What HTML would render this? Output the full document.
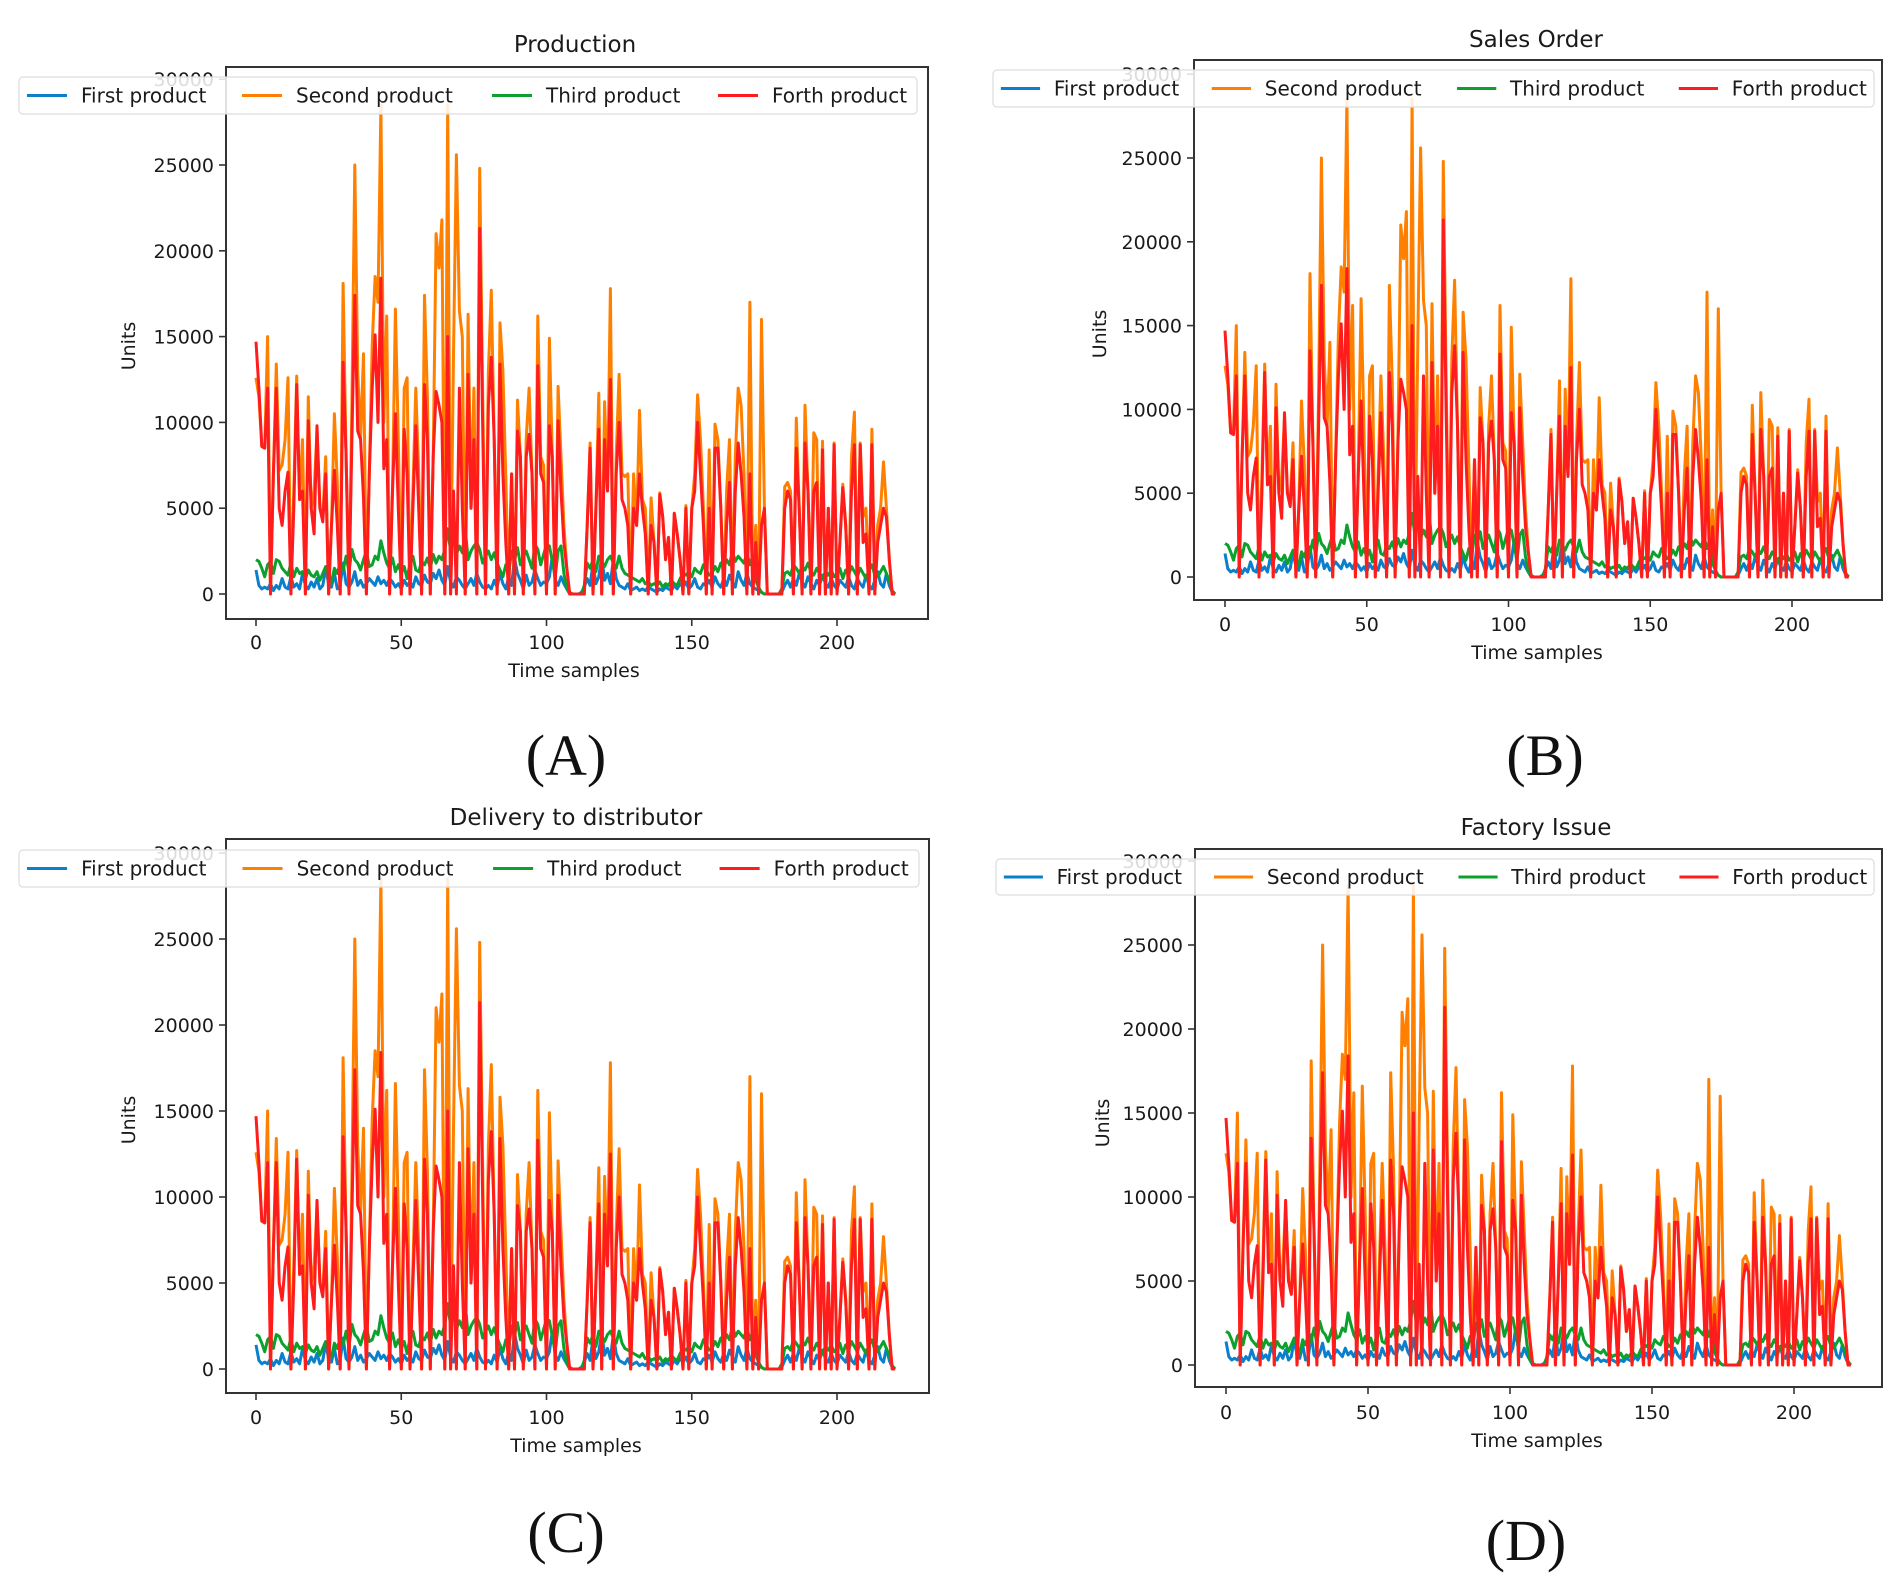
<!DOCTYPE html>
<html><head><meta charset="utf-8"><style>
html,body{margin:0;padding:0;background:#fff;}
svg{display:block;}
text{font-family:"DejaVu Sans","Liberation Sans",sans-serif;fill:#1a1a1a;}
</style></head>
<body>
<svg id="fig" width="1904" height="1584" viewBox="0 0 1904 1584" xmlns="http://www.w3.org/2000/svg"></svg>
<script>
// ---- data ----
const seriesNames = ["First product","Second product","Third product","Forth product"];
const xTicks = [0,50,100,150,200];
const yTicks = [0,5000,10000,15000,20000,25000,30000];
const firstProduct = [1400,500,300,400,300,600,200,500,300,900,400,300,1000,400,600,300,1200,500,300,700,
400,900,300,500,1500,600,400,1200,300,500,1800,600,400,700,1300,500,800,400,600,900,
700,500,1000,600,800,500,900,700,400,600,300,800,500,700,400,1000,600,500,1100,700,
600,1200,900,1400,800,500,1600,700,400,1000,800,500,300,600,900,500,1200,700,400,300,
500,300,800,400,1200,600,300,1000,500,2100,1200,800,300,1100,500,700,1400,900,500,700,
600,1000,2200,800,500,1000,600,300,0,0,0,0,100,400,900,500,1800,600,1000,2200,
800,1200,600,2000,900,500,400,300,600,200,300,400,200,300,200,400,300,200,100,300,
200,400,300,200,500,300,600,400,700,300,500,900,400,300,600,500,800,400,1000,600,
400,900,500,1100,700,400,1300,800,500,1200,600,400,300,200,100,0,0,0,0,0,
0,100,500,800,400,900,500,1200,700,400,1000,600,300,800,500,1100,600,400,900,500,
300,800,600,400,1000,500,300,900,600,400,1100,500,300,800,1300,600,400,1200,500,100,0];
const secondProduct = [12600,11500,8600,8500,15000,0,7000,13400,7200,7500,9000,12600,0,6000,12700,5500,9000,0,11500,5000,
6000,9500,5000,4500,8000,0,4000,10500,6500,0,18100,8000,0,11000,25000,13000,9000,14000,0,7000,
14500,18500,17000,28500,10000,16200,0,6000,16600,9000,0,12000,12600,0,6000,12000,7000,0,17400,11500,
0,8000,21000,19000,21800,0,28500,0,14000,25600,16500,15000,0,16300,5000,12000,0,24800,12000,0,
13000,17700,9000,0,15800,13000,6800,0,7000,0,11300,8000,0,9000,12000,7000,0,16200,8000,7500,
0,14900,8000,0,12100,8000,4000,1500,0,0,0,0,0,0,4000,8800,0,5000,11700,0,
11200,6000,17800,0,8000,12800,7000,6850,7000,0,7000,4000,10700,5500,5000,0,5600,3000,0,5900,
4500,2000,3300,0,4700,3500,2000,0,5150,0,5000,7000,11600,9000,5000,0,8400,0,9900,9000,
5000,0,6000,9000,0,8000,12000,11000,7000,0,17000,0,4000,0,16000,5000,0,0,0,0,
0,0,6250,6500,6000,0,10250,5000,0,11000,6000,0,9400,9000,0,8900,0,5000,0,8800,
0,3000,6400,4000,0,8000,10600,0,8800,4500,5000,0,9600,0,4000,5000,7700,5000,2000,0,0];
const thirdProduct = [2000,1900,1500,1000,1700,1900,1200,2000,1900,1500,1300,1100,1800,1000,1500,1200,1300,900,1400,1100,
1000,1300,800,1200,1600,1100,700,1500,1200,1800,1400,2200,1300,2600,2000,1800,1400,2000,2500,1600,
1700,2200,2000,3100,2400,1800,1500,2100,1300,1700,1200,1600,900,1800,2200,1400,1300,1900,1700,2100,
1500,2300,1800,2200,2000,2600,3800,2500,3600,2300,2800,2400,3800,2000,2500,2800,3000,2600,1800,2200,
2500,2000,2400,1800,1400,1000,1700,1200,2500,2000,2700,1700,2200,2500,2000,1500,2900,2600,1700,2300,
2900,2800,1900,1000,2500,2800,1200,300,100,0,0,0,0,500,1800,1500,2000,1300,2200,1900,
1600,2000,2200,1800,1500,2200,1500,1200,1100,1000,900,800,700,900,600,700,500,600,500,700,
400,600,500,800,600,500,900,1200,1100,1300,1000,1500,1300,1200,1700,1400,1100,1200,1600,1300,
1800,1500,2000,1700,2500,1900,2200,2000,1800,2400,1700,2200,800,400,100,0,0,0,0,0,
0,300,1200,1300,1100,1700,1500,1200,1600,1400,1800,1300,1100,1500,1200,900,1300,1100,1400,1000,
1200,1500,900,1400,1100,1600,1300,1000,1500,1200,900,1400,1700,1100,1000,1300,1600,1200,800,200,0];
const forthProduct = [14700,12000,8600,8500,12000,0,7000,12000,5000,4000,6000,7100,0,5000,12200,5500,6000,0,10100,5000,
3500,9800,5000,4200,7000,0,4000,7200,4000,0,13500,8000,0,9000,17400,9500,9000,5600,0,7000,
12000,15100,10000,18400,7300,9000,0,6000,10500,5000,0,9600,7000,0,5000,9800,5000,0,12200,9000,
0,8000,11800,11000,10000,0,15000,0,6000,0,12000,5000,0,12800,5000,9000,0,21300,10000,0,
11000,13800,9000,0,13400,7000,3000,0,7000,0,9500,8000,0,8000,9300,7000,0,13300,7000,6500,
0,9800,8000,0,10100,6000,3000,1500,0,0,0,0,0,0,4000,8500,0,5000,9600,0,
9000,6000,12500,0,7000,10000,5500,5000,4000,0,5000,4000,7000,5000,3500,0,4000,3000,0,5800,
4500,2000,3300,0,4700,3500,2000,0,5000,0,5000,6000,10000,7000,4000,0,5000,0,8500,8500,
5000,0,4000,6500,0,6000,8800,7000,4500,0,7000,0,3000,0,4000,5000,0,0,0,0,
0,0,5000,6000,5500,0,8500,5000,0,8800,6000,0,6000,6500,0,8400,0,5000,0,8700,
0,3000,6200,4000,0,6000,8700,0,8700,3000,3500,0,8700,0,3000,4000,5000,4500,2000,0,0];
const panelTitles = ["Production","Sales Order","Delivery to distributor","Factory Issue"];
const panelLetters = ["(A)","(B)","(C)","(D)"];

// ---- layout ----
const panels = [
 {left:226,right:928,top:67,bottom:619,x0:256,x200:837,y0:594,y25:165,title:[575,44],ylab:[129,346],xlab:[574,670],xtickY:642,leg:[19,77,898,37],letter:[566,755]},
 {left:1194,right:1882,top:60,bottom:600,x0:1225,x200:1792,y0:577,y25:158,title:[1536,39],ylab:[1100,334],xlab:[1537,652],xtickY:624,leg:[993,70,881,37],letter:[1545,755]},
 {left:226,right:929,top:839,bottom:1393,x0:256,x200:837,y0:1369,y25:939,title:[576,817],ylab:[129,1120],xlab:[576,1445],xtickY:1417,leg:[19,850,900,37],letter:[566,1532]},
 {left:1195,right:1882,top:849,bottom:1387,x0:1226,x200:1794,y0:1365,y25:945,title:[1536,827],ylab:[1103,1123],xlab:[1537,1440],xtickY:1412,leg:[996,859,878,36],letter:[1526,1540]}
];
const colors = ["#0a7fcc","#ff8000","#0ca02c","#ff1c1c"];
const allSeries = [firstProduct,secondProduct,thirdProduct,forthProduct];

const NS = "http://www.w3.org/2000/svg";
const svg = document.getElementById('fig');
function mk(tag, attrs, parent){
  const e = document.createElementNS(NS, tag);
  for (const k in attrs) e.setAttribute(k, attrs[k]);
  (parent||svg).appendChild(e);
  return e;
}

panels.forEach((p, pi) => {
  const g = mk('g', {});
  
  
  const xs = v => p.x0 + (p.x200 - p.x0) * v / 200;
  const ys = v => p.y0 - (p.y0 - p.y25) * v / 25000;

  const t = mk('text', {x:p.title[0], y:p.title[1]+8, 'text-anchor':'middle', 'font-size':23}, g);
  t.textContent = panelTitles[pi];
  
  

  const sg = mk('g', {}, g);
  
  
  allSeries.forEach((arr, si) => {
    const d = arr.map((v,i) => (i?'L':'M') + xs(i).toFixed(1) + ' ' + ys(v).toFixed(1)).join(' ');
    const path = mk('path', {d:d, fill:'none', stroke:colors[si], 'stroke-width':3, 'stroke-linejoin':'round'}, sg);
    
    
  });

  const fr = mk('rect', {x:p.left, y:p.top, width:p.right-p.left, height:p.bottom-p.top, fill:'none', stroke:'#333', 'stroke-width':2}, g);
  
  

  xTicks.forEach(v => {
    const x = xs(v);
    mk('line', {x1:x, x2:x, y1:p.bottom, y2:p.bottom+7, stroke:'#333', 'stroke-width':1.6}, g);
    const tl = mk('text', {x:x, y:p.xtickY+7, 'text-anchor':'middle', 'font-size':19}, g);
    tl.textContent = v;
    
    
  });
  yTicks.forEach(v => {
    const y = ys(v);
    mk('line', {x1:p.left-7, x2:p.left, y1:y, y2:y, stroke:'#333', 'stroke-width':1.6}, g);
    const tl = mk('text', {x:p.left-12, y:y+7, 'text-anchor':'end', 'font-size':19}, g);
    tl.textContent = v;
    
    
  });

  const xl = mk('text', {x:p.xlab[0], y:p.xlab[1]+7, 'text-anchor':'middle', 'font-size':19}, g);
  xl.textContent = 'Time samples';
  
  
  const yl = mk('text', {x:0, y:0, 'text-anchor':'middle', 'font-size':19, transform:`translate(${p.ylab[0]+6},${p.ylab[1]}) rotate(-90)`}, g);
  yl.textContent = 'Units';
  
  

  const [lx, ly, lw, lh] = p.leg;
  const lg = mk('g', {}, g);
  
  
  mk('rect', {x:lx, y:ly, width:lw, height:lh, rx:4, fill:'rgba(255,255,255,0.85)', stroke:'#ddd', 'stroke-width':1.2}, lg);
  const s = lw / 898;
  const lineOff = [8, 223, 473, 699];
  const cy = ly + lh/2;
  seriesNames.forEach((n, si) => {
    const ex = lx + lineOff[si]*s;
    const ent = mk('g', {}, lg);
    
    
    mk('line', {x1:ex, x2:ex+40*s, y1:cy, y2:cy, stroke:colors[si], 'stroke-width':3}, ent);
    const tx = mk('text', {x:ex+54*s, y:cy+7, 'font-size':20}, ent);
    tx.textContent = n;
  });

  const pl = mk('text', {x:p.letter[0], y:p.letter[1]+20, 'text-anchor':'middle', 'font-size':58, style:'font-family:"Liberation Serif",serif;fill:#111'}, svg);
  pl.textContent = panelLetters[pi];
  
  
});
</script>
</body></html>
